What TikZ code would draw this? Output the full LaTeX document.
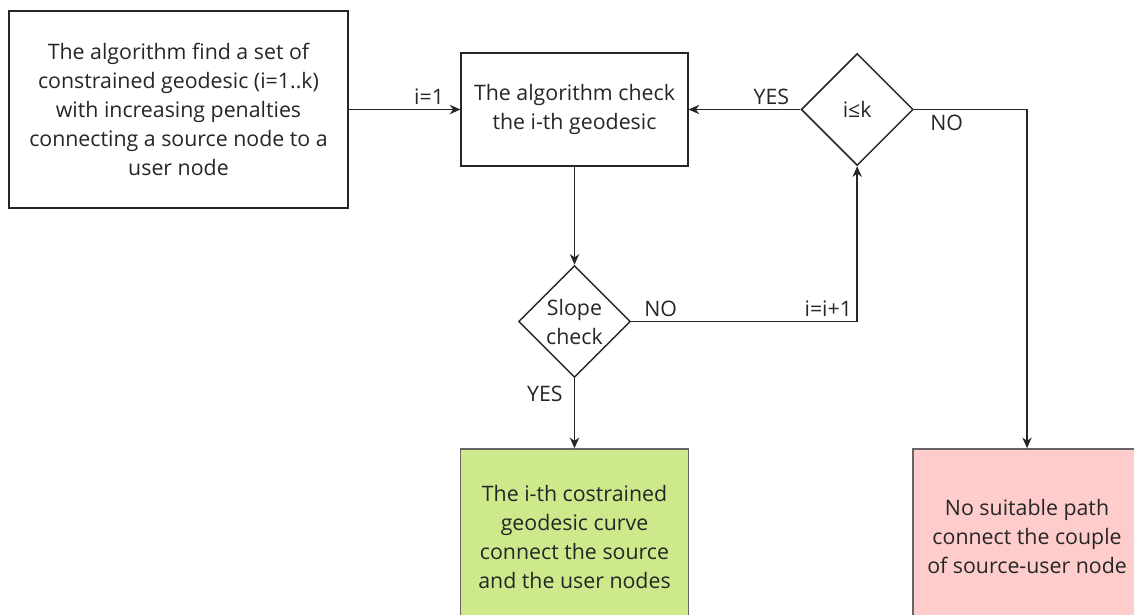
\documentclass[tikz,border=0pt]{standalone}
\usepackage{fontspec}
\setmainfont{Open Sans}
\usetikzlibrary{shapes,arrows.meta,positioning}
\usepackage{xcolor}
\definecolor{okgreen}{RGB}{205,233,139}
\definecolor{failred}{RGB}{255,204,204}
\tikzset{
    block/.style={rectangle, draw=black!85, fill=white, text=black!85, align=center, inner sep=0pt, font=\fontsize{16}{21.75}\selectfont, line width=1.1pt},
    decision/.style={diamond, draw=black!85, fill=white, text=black!85, align=center, aspect=1, minimum width=84pt, minimum height=84pt, inner sep=0pt, font=\fontsize{16}{21.75}\selectfont, line width=1.1pt},
    line/.style={draw=black!85, -{Stealth[length=8pt,width=7pt,inset=2.5pt]}, line width=1.1pt},
    tag/.style={text=black!85, font=\fontsize{16}{18}\selectfont}
}

\begin{document}
\begin{tikzpicture}[x=0.75pt, y=-0.75pt, node distance=100pt]
    \clip (0,0) rectangle (1134,614);
    \useasboundingbox (0,0) rectangle (1134,614);
    \node [block, minimum width=254pt, minimum height=148pt] at (178.5,109.5) (find) {The algorithm find a set of\\constrained geodesic (i=1..k)\\with increasing penalties\\connecting a source node to a\\user node};
    \node [block, minimum width=170pt, minimum height=85pt, right of=find, node distance=297pt] (check) {The algorithm check\\the i-th geodesic};
    \node [decision, right of=check, node distance=212pt] (iltk) {i≤k};
    \node [decision, below of=check, node distance=159pt] (slope) {Slope\\check};
    \node [block, fill=okgreen, draw=black!60, minimum width=171pt, minimum height=132pt, below of=slope, node distance=161.6pt] (found) {The i-th costrained\\geodesic curve\\connect the source\\and the user nodes};
    \node [block, fill=failred, draw=black!60, minimum width=171pt, minimum height=132pt, right of=found, node distance=339.4pt] (nopath) {No suitable path\\connect the couple\\of source-user node};

    \path [line] (find) -- node [tag, above, pos=0.72] {i=1} (check);
    \path [line] (check) -- (slope);
    \path [line] (iltk) -- node [tag, above, pos=0.26] {YES} (check);
    \path [line] (iltk.east) -| node [tag, below right, pos=0.05] {NO} (nopath.north);
    \path [line] (slope.east) -| node [tag, above, pos=0.065] {NO} node [tag, above left, pos=0.5] {i=i+1} (iltk.south);
    \path [line] (slope) -- node [tag, left=5pt, pos=0.22] {YES} (found);
\end{tikzpicture}
\end{document}
